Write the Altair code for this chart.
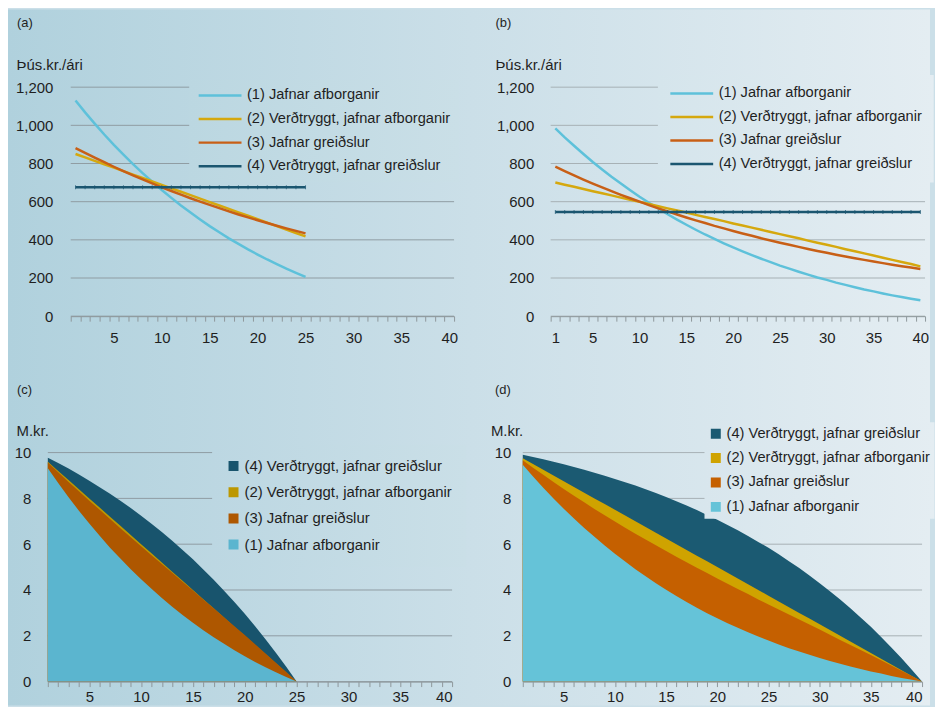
import altair as alt
import pandas as pd

FONT = "Liberation Sans, Arial, Helvetica, sans-serif"
TXT = "#1f1f1f"
AXC = "#8e979b"

NAMES = [
    "(1) Jafnar afborganir",
    "(2) Verðtryggt, jafnar afborganir",
    "(3) Jafnar greiðslur",
    "(4) Verðtryggt, jafnar greiðslur",
]
AREA_ORDER = [NAMES[3], NAMES[1], NAMES[2], NAMES[0]]

years25 = list(range(1, 26))
years40 = list(range(1, 41))

# (a) annual payments, 25-year loan (thous. kr./year)
pay25_1 = [1130, 1068, 1009, 952, 898, 847, 797, 750, 705, 661, 620, 580, 543, 507, 472,
           440, 408, 379, 350, 323, 297, 273, 249, 227, 206]
pay25_2 = [850, 832, 814, 796, 778, 760, 742, 724, 706, 688, 670, 652, 634, 616, 598,
           580, 562, 544, 526, 508, 490, 472, 454, 436, 418]
pay25_3 = [881, 856, 831, 807, 783, 760, 738, 717, 696, 675, 656, 637, 618, 600, 583,
           566, 549, 533, 518, 503, 488, 474, 460, 447, 434]
pay25_4 = [676, 676, 676, 676, 676, 676, 676, 676, 676, 676, 676, 676, 676, 676, 676,
           676, 676, 676, 676, 676, 676, 676, 676, 676, 676]

# (b) annual payments, 40-year loan
pay40_1 = [984, 937, 893, 850, 808, 769, 731, 695, 660, 626, 594, 564, 534, 506, 479,
           453, 428, 405, 382, 360, 340, 320, 301, 283, 265, 249, 233, 218, 203, 190,
           176, 164, 152, 140, 130, 119, 109, 100, 91, 83]
pay40_2 = [700, 689, 678, 666, 655, 644, 633, 621, 610, 599, 588, 576, 565, 554, 543,
           531, 520, 509, 498, 486, 475, 464, 453, 441, 430, 419, 408, 396, 385, 374,
           363, 351, 340, 329, 318, 306, 295, 284, 273, 261]
pay40_3 = [783, 760, 738, 716, 695, 675, 655, 636, 618, 600, 582, 565, 549, 533, 517,
           502, 488, 473, 460, 446, 433, 421, 408, 397, 385, 374, 363, 352, 342, 332,
           322, 313, 304, 295, 286, 278, 270, 262, 255, 247]
pay40_4 = [546, 546, 546, 546, 546, 546, 546, 546, 546, 546, 546, 546, 546, 546, 546,
           546, 546, 546, 546, 546, 546, 546, 546, 546, 546, 546, 546, 546, 546, 546,
           546, 546, 546, 546, 546, 546, 546, 546, 546, 546]

# (c) outstanding balance, 25-year loan (M.kr.)
bal25_1 = [9.32, 8.67, 8.05, 7.46, 6.90, 6.37, 5.85, 5.37, 4.91, 4.47, 4.05, 3.65, 3.27,
           2.91, 2.57, 2.24, 1.94, 1.65, 1.37, 1.11, 0.86, 0.63, 0.41, 0.20, 0]
bal25_2 = [9.6, 9.2, 8.8, 8.4, 8.0, 7.6, 7.2, 6.8, 6.4, 6.0, 5.6, 5.2, 4.8, 4.4, 4.0,
           3.6, 3.2, 2.8, 2.4, 2.0, 1.6, 1.2, 0.8, 0.4, 0]
bal25_3 = [9.57, 9.14, 8.72, 8.31, 7.90, 7.50, 7.10, 6.70, 6.30, 5.91, 5.52, 5.14, 4.75,
           4.36, 3.98, 3.59, 3.20, 2.81, 2.42, 2.03, 1.63, 1.23, 0.82, 0.42, 0]
bal25_4 = [9.78, 9.54, 9.30, 9.04, 8.77, 8.49, 8.20, 7.90, 7.58, 7.24, 6.89, 6.53, 6.15,
           5.75, 5.34, 4.90, 4.45, 3.97, 3.48, 2.96, 2.42, 1.85, 1.26, 0.65, 0]

# (d) outstanding balance, 40-year loan (M.kr.)
bal40_1 = [9.47, 8.96, 8.47, 8.00, 7.55, 7.12, 6.71, 6.32, 5.94, 5.58, 5.24, 4.91, 4.60,
           4.30, 4.01, 3.74, 3.48, 3.23, 2.99, 2.77, 2.55, 2.35, 2.15, 1.97, 1.79, 1.62,
           1.46, 1.31, 1.17, 1.03, 0.90, 0.78, 0.66, 0.55, 0.44, 0.35, 0.25, 0.16, 0.08, 0]
bal40_2 = [9.75, 9.5, 9.25, 9.0, 8.75, 8.5, 8.25, 8.0, 7.75, 7.5, 7.25, 7.0, 6.75, 6.5,
           6.25, 6.0, 5.75, 5.5, 5.25, 5.0, 4.75, 4.5, 4.25, 4.0, 3.75, 3.5, 3.25, 3.0,
           2.75, 2.5, 2.25, 2.0, 1.75, 1.5, 1.25, 1.0, 0.75, 0.5, 0.25, 0]
bal40_3 = [9.67, 9.34, 9.03, 8.72, 8.41, 8.12, 7.83, 7.54, 7.26, 6.99, 6.72, 6.46, 6.20,
           5.95, 5.70, 5.45, 5.21, 4.97, 4.74, 4.50, 4.27, 4.04, 3.82, 3.59, 3.37, 3.15,
           2.93, 2.71, 2.49, 2.27, 2.05, 1.82, 1.60, 1.38, 1.16, 0.93, 0.70, 0.47, 0.24, 0]
bal40_4 = [9.91, 9.81, 9.71, 9.60, 9.49, 9.37, 9.25, 9.12, 8.99, 8.85, 8.71, 8.56, 8.40,
           8.23, 8.06, 7.88, 7.69, 7.49, 7.28, 7.07, 6.84, 6.61, 6.36, 6.10, 5.84, 5.56,
           5.26, 4.96, 4.63, 4.30, 3.95, 3.58, 3.20, 2.80, 2.39, 1.95, 1.49, 1.02, 0.52, 0]

pay_ticks = [0, 200, 400, 600, 800, 1000, 1200]
bal_ticks = [0, 2, 4, 6, 8, 10]

LINE_COLORS = ["#5ec1da", "#d5a80e", "#c85f16", "#1b5670"]
AREA_C_COLORS = ["#18546d", "#bc9700", "#ae5700", "#5bb5cf"]   # in AREA_ORDER
AREA_D_COLORS = ["#1b5a72", "#cfa300", "#c56000", "#65c3d8"]   # in AREA_ORDER

# background gradient (page x -> colour)
C0 = (176, 209, 221)
C1 = (229, 237, 242)


def bgc(px):
    t = max(0.0, min(1.0, px / 943.0))
    return "#%02x%02x%02x" % tuple(int(round(a + (b - a) * t)) for a, b in zip(C0, C1))


def grad_expr(xa, xb):
    return ("{gradient: 'linear', x1: 0, y1: 0, x2: 1, y2: 0, stops: "
            "[{offset: 0, color: '%s'}, {offset: 1, color: '%s'}]}" % (bgc(xa), bgc(xb)))


def long_df(years, cols):
    rows = []
    for name, vals in zip(NAMES, cols):
        for yr, v in zip(years, vals):
            rows.append({"year": yr, "series": name, "value": v})
    return pd.DataFrame(rows)


def panel(kind, letter, unit, df, origin, geo, cell, colors, domain, leg, label_expr,
          ydom, yticks, ylabpad, unit_xy, letter_xy, gridc, xlabpad):
    OX, OY = origin           # grid origin of this cell (page px)
    L, T, W, H = geo          # visible plot rectangle (page px)
    off = L - OX
    x0, x1, y0, y1 = cell
    grad = alt.LinearGradient(
        gradient="linear", x1=0, x2=1, y1=0, y2=0,
        stops=[alt.GradientStop(color=bgc(x0), offset=0),
               alt.GradientStop(color=bgc(x1), offset=1)])
    bg = alt.Chart(alt.Data(values=[{"k": 0}])).mark_rect(fill=grad, strokeWidth=0).encode(
        x=alt.value(x0 - OX), x2=alt.value(x1 - OX), y=alt.value(y0 - OY), y2=alt.value(y1 - OY))

    yscale = alt.Scale(domain=ydom, nice=False, zero=True)
    yaxis = alt.Axis(values=yticks, format=",.0f", title=unit, titleAngle=0, titleAlign="left",
                     titleBaseline="middle", titleX=unit_xy[0] - L, titleY=unit_xy[1] - T,
                     titleFontSize=15, titleFontWeight="normal", titleColor=TXT, titleFont=FONT,
                     labelFontSize=15, labelColor=TXT, labelFont=FONT, labelPadding=ylabpad,
                     ticks=False, domain=False, grid=False, zindex=1, offset=-off)
    grid = alt.Chart(pd.DataFrame({"value": yticks})).mark_rule(
        color=gridc, strokeWidth=1).encode(
        y=alt.Y("value:Q", scale=yscale, axis=yaxis), x=alt.value(off), x2=alt.value(off + W))

    legend = alt.Legend(
        orient="none", legendX=leg["x"] - OX, legendY=leg["y"] - OY, direction="vertical",
        title=None, padding=leg["pad"], rowPadding=leg["rp"], clipHeight=15,
        labelFontSize=leg["fs"], labelFont=FONT, labelColor=TXT, labelOffset=leg["lo"],
        labelLimit=500, symbolType=leg["sym"], symbolSize=leg["ss"],
        symbolStrokeWidth=leg["sw"], symbolOpacity=1,
        fillColor=alt.ExprRef(expr=grad_expr(leg["x"], leg["xr"])))
    color = alt.Color("series:N", scale=alt.Scale(domain=domain, range=colors),
                      legend=legend, title=None)

    common_x_axis = dict(title=None, labelExpr=label_expr, tickSize=5, tickColor=AXC,
                         domainColor=AXC, labelPadding=xlabpad, labelAngle=0,
                         labelOverlap=False, labelFontSize=15, labelColor=TXT,
                         labelFont=FONT, grid=False, zindex=1)
    marks = []
    if kind == "line":
        x = alt.X("year:O",
                  scale=alt.Scale(type="band", domain=years40, range=[off, off + W],
                                  paddingInner=0, paddingOuter=0),
                  axis=alt.Axis(tickBand="extent", **common_x_axis))
        yenc = alt.Y("value:Q", scale=yscale, axis=yaxis)
        marks.append(alt.Chart(df).mark_line(strokeWidth=2.5).encode(x=x, y=yenc, color=color))
        marks.append(alt.Chart(df[df.series == NAMES[3]]).mark_tick(
            orient="vertical", size=4, thickness=1, color=colors[3]).encode(x=x, y=yenc))
    else:
        x = alt.X("year:Q", scale=alt.Scale(domain=[1, 40], nice=False, zero=False,
                                            range=[off, off + W]),
                  axis=alt.Axis(values=years40, **common_x_axis))
        yenc = alt.Y("value:Q", stack=None, scale=yscale, axis=yaxis)
        for s in AREA_ORDER:
            marks.append(alt.Chart(df[df.series == s]).mark_area(
                interpolate="linear", opacity=1).encode(x=x, y=yenc, color=color))

    lab = alt.Chart(alt.Data(values=[{"t": letter}])).mark_text(
        align="left", baseline="middle", fontSize=13, font=FONT, color=TXT).encode(
        text="t:N", x=alt.value(letter_xy[0] - OX), y=alt.value(letter_xy[1] - OY))

    return alt.layer(bg, grid, *marks, lab).properties(width=off + W, height=H)


dfa = long_df(years25, [pay25_1, pay25_2, pay25_3, pay25_4])
dfb = long_df(years40, [pay40_1, pay40_2, pay40_3, pay40_4])
dfc = long_df(years25, [bal25_1, bal25_2, bal25_3, bal25_4])
dfd = long_df(years40, [bal40_1, bal40_2, bal40_3, bal40_4])

five = "datum.value % 5 == 0 ? datum.label : ''"
five_one = "(datum.value % 5 == 0 || datum.value == 1) ? datum.label : ''"

line_leg = dict(sym="stroke", ss=1849, sw=2.5, fs=14.7, lo=4)
sq_leg = dict(sym="square", ss=100, sw=0, fs=15, lo=3.5)

RIGHT = 934
BOTTOM = 707
COL1, COL2 = 48, 525
ROW1, ROW2 = 86, 453
H2 = 230

pa = panel("line", "(a)", "Þús.kr./ári", dfa, (COL1, ROW1), (71, ROW1, 385, 230),
           (8, 474, 8, 368), LINE_COLORS, NAMES,
           dict(line_leg, x=190, y=78.8, xr=457, pad=8, rp=7.7),
           five, [0, 1200], pay_ticks, 18, (16, 63), (17, 22), "#8f9ca2", 9)
pb = panel("line", "(b)", "Þús.kr./ári", dfb, (COL2, ROW1), (553, ROW1, 376, 230),
           (474, RIGHT, 8, 368), LINE_COLORS, NAMES,
           dict(line_leg, x=660.7, y=73.8, xr=RIGHT, pad=11, rp=7.6),
           five_one, [0, 1200], pay_ticks, 17, (497, 63), (497.5, 22), "#a6b0b4", 9)
pc = panel("area", "(c)", "M.kr.", dfc, (COL1, ROW2), (48, ROW2, 406, H2),
           (8, 474, 368, BOTTOM), AREA_C_COLORS, AREA_ORDER,
           dict(sq_leg, x=213, y=445, xr=464, pad=14, rp=10.3),
           five, [0, 10], bal_ticks, 17, (16, 431), (17, 390), "#8f9ca2", 3)
pd_ = panel("area", "(d)", "M.kr.", dfd, (COL2, ROW2), (525, ROW2, 401, H2),
            (474, RIGHT, 368, BOTTOM), AREA_D_COLORS, AREA_ORDER,
            dict(sq_leg, fs=14.7, x=707.5, y=422.5, xr=RIGHT, pad=4, rp=8.5),
            five, [0, 10], bal_ticks, 12, (492.5, 431), (497, 390), "#a6b0b4", 3)

chart = alt.concat(pa, pb, pc, pd_, columns=2, spacing=0).resolve_scale(
    color="independent").resolve_legend(color="independent").properties(
    padding=0, background=bgc(474)).configure(font=FONT).configure_view(strokeOpacity=0)

chart.save("out.html", embed_options={"renderer": "svg", "actions": False})
